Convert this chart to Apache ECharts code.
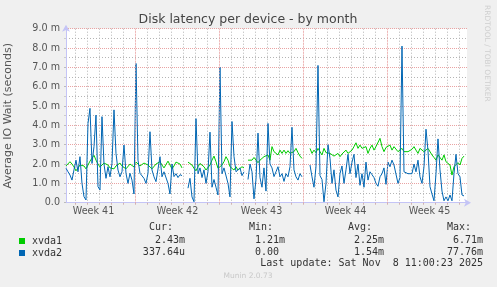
<!DOCTYPE html>
<html>
<head>
<meta charset="utf-8">
<script src="https://cdn.jsdelivr.net/npm/echarts@6/dist/echarts.min.js"></script>
<style>
html,body{margin:0;padding:0;background:#f0f0f0;}
#chart{width:497px;height:287px;}
</style>
</head>
<body>
<div id="chart"></div>
<script>
// ---- data (days counted from Sun 5 Oct 2025 00:00; one sample every 4 hours) ----
const startDay = 1.2083;
const stepDay = 1 / 6;
const axisMinDay = 1.2083;
const axisMaxDay = 34.625;

const seriesNames = ['xvda1', 'xvda2'];

// xvda1 average IO wait, milliseconds
const xvda1 = [
  1.9, 2.0, 2.12, 2.0, 1.85, 1.65, 1.75, 1.95, 2.05, 1.9,
  1.75, 1.95, 2.15, 2.3, 2.45, 2.2, 2.0, 1.85, 1.95, 2.05,
  2.12, 1.95, 1.8, 1.7, 1.75, 1.9, 2.0, 2.05, 1.9, 1.8,
  1.75, 1.85, 2.0, 1.9, 1.85, 2.1, 2.05, 1.9, 1.95, 2.05,
  2.12, 1.95, 1.85, 1.75, 1.85, 2.0, 2.1, 2.12, 1.95, 1.8,
  1.7, 2.15, 1.95, 1.75, 1.9, 2.1, 2.2, 2.0, 1.8, null,
  null, 2.1, 2.12, 1.95, 1.78, 1.65, 1.86, 2.03, 2.12, 1.86,
  1.69, 1.78, 1.95, 2.2, 2.41, 2.12, 1.78, 1.69, 1.95, 2.12,
  2.38, 2.2, 1.86, 1.78, 1.69, 1.86, 1.69, 1.78, 1.86, 1.8,
  null, 2.2, 2.29, 2.2, 2.34, 2.41, 2.07, 2.2, 2.29, 2.38,
  2.29, 2.47, 2.2, 2.9, 2.64, 2.55, 2.47, 2.72, 2.55, 2.72,
  2.55, 2.69, 2.55, 2.47, 2.64, 2.81, 2.59, 2.41, 2.29, null,
  null, null, 2.81, 2.55, 2.72, 2.59, 2.81, 2.72, 2.47, 2.81,
  2.59, 2.52, 2.55, 2.47, 2.41, 2.38, 2.55, 2.38, 2.52, 2.59,
  2.72, 2.55, 2.55, 2.72, 2.9, 3.1, 2.81, 2.98, 2.81, 2.86,
  2.9, 2.55, 2.81, 2.98, 2.72, 2.9, 2.81, 3.33, 2.9, 2.64,
  2.86, 2.93, 2.98, 2.72, 2.9, 2.98, 2.64, 2.55, 2.81, 2.64,
  2.72, 2.64, 2.55, 2.76, 2.9, 2.72, 2.55, 2.81, 2.9, 2.64,
  2.72, 2.81, 2.81, 2.47, 2.34, 2.2, 2.47, 2.55, 2.2, 2.47,
  2.12, 2.03, 1.95, 1.43, 1.86, 1.95, 2.07, 1.95, 2.29, 2.41
];

// xvda2 average IO wait, milliseconds
const xvda2 = [
  1.78, 1.6, 1.43, 1.17, 1.7, 2.2, 1.6, 2.38, 1.0, 0.31,
  0.14, 4.1, 4.88, 2.03, 2.9, 4.53, 0.83, 0.66, 4.45, 2.0,
  1.26, 1.86, 1.34, 2.03, 4.8, 2.55, 1.69, 1.34, 1.6, 2.98,
  1.52, 1.0, 1.52, 1.17, 0.45, 7.2, 2.2, 1.52, 1.6, 1.26,
  1.0, 1.52, 3.67, 1.69, 1.34, 1.09, 1.17, 2.38, 1.34, 1.6,
  1.52, 1.0, 0.45, 2.0, 1.35, 1.5, 1.3, 1.45, 1.4, null,
  null, 0.75, 1.26, 0.3, 0.05, 4.35, 1.5, 1.8, 1.3, 1.7,
  1.0, 1.6, 3.65, 0.8, 1.2, 0.8, 0.4, 7.0, 1.5, 1.8,
  1.9, 1.0, 0.3, 4.2, 2.4, 1.6, 1.5, 1.8, 1.4, 1.6,
  null, 1.2, 2.0, 1.6, 0.2, 1.2, 3.6, 1.3, 0.8, 1.8,
  0.6, 4.1, 2.0, 1.8, 1.35, 1.6, 1.86, 1.34, 1.5, 1.1,
  1.5, 1.34, 1.86, 3.9, 1.7, 1.34, 1.17, 1.5, 1.34, null,
  null, null, 1.95, 1.34, 0.8, 1.86, 7.1, 1.4, 1.2, 0.05,
  1.0, 3.0, 2.3, 1.0, 1.7, 0.65, 0.3, 1.5, 1.9, 1.0,
  1.7, 2.5, 1.5, 2.1, 2.5, 1.3, 2.0, 0.9, 1.5, 0.8,
  2.1, 1.17, 1.6, 1.45, 1.3, 1.0, 0.85, 1.34, 1.5, 1.8,
  0.95, 2.1, 1.86, 2.2, 1.95, 1.9, 1.0, 1.3, 8.1, 1.6,
  1.5, 1.5, 1.6, 1.5, 2.0, 1.6, 2.2, 1.34, 1.0, 1.86,
  3.8, 2.7, 0.83, 0.45, 0.1, 1.5, 3.3, 1.7, 0.6, 0.1,
  0.3, 0.1, 0.4, 0.1, 1.5, 2.5, 1.5, 1.34, 0.4, 0.35
];

const weekLabels = ['Week 41', 'Week 42', 'Week 43', 'Week 44', 'Week 45'];
const weekMidDays = [3.5, 10.5, 17.5, 24.5, 31.5];
const weekStartDays = [7, 14, 21, 28];

const yMax = 9;
const yStep = 1;

const titleText = 'Disk latency per device - by month';
const yAxisTitle = 'Average IO Wait (seconds)';
const statHeaders = ['Cur:', 'Min:', 'Avg:', 'Max:'];
const xvda1Stats = ['2.43m', '1.21m', '2.25m', '6.71m'];
const xvda2Stats = ['337.64u', '0.00', '1.54m', '77.76m'];
const lastUpdate = 'Last update: Sat Nov  8 11:00:23 2025';
const munin = 'Munin 2.0.73';
const rrdtool = 'RRDTOOL / TOBI OETIKER';

// ---- build ----
const toPairs = arr => arr.map((v, i) => [startDay + i * stepDay, v]);

const mono = '"DejaVu Sans Mono", monospace';
const sans = '"DejaVu Sans", sans-serif';
const GREEN = '#00cc00';
const BLUE = '#0066b3';
const MAJOR = '#e9a3a3';
const MINOR = '#b4b4b4';
const AXIS = '#c4c4f6';

// every day boundary inside the axis range; week starts drawn in the major colour
const dayTicks = [];
for (let d = Math.ceil(axisMinDay); d <= Math.floor(axisMaxDay); d++) dayTicks.push(d);
const dayLineColors = dayTicks.map(d => (weekStartDays.indexOf(d) >= 0 ? MAJOR : MINOR));

const headerLeft = [149, 249, 348, 447];
const valueRight = [185, 285, 384, 483];
const pad = s => (/[a-z]$/i.test(s) ? s : s + ' ');

const graphics = [
  { type: 'text', x: 248, y: 19.5, style: { text: titleText, font: '12.5px ' + sans, fill: '#444', align: 'center', verticalAlign: 'middle' } },
  { type: 'text', x: 487, y: 5, rotation: -Math.PI / 2, style: { text: rrdtool, font: '7.5px ' + sans, fill: '#cfcfcf', align: 'left', verticalAlign: 'middle' } },
  { type: 'text', x: 248, y: 276, style: { text: munin, font: '7.5px ' + sans, fill: '#c8c8c8', align: 'center', verticalAlign: 'middle' } },
  { type: 'text', x: 483, y: 263.5, style: { text: lastUpdate, font: '10px ' + mono, fill: '#333', align: 'right', verticalAlign: 'middle' } }
];
statHeaders.forEach((h, k) => {
  graphics.push({ type: 'text', x: headerLeft[k], y: 227.5, style: { text: h, font: '10px ' + mono, fill: '#333', align: 'left', verticalAlign: 'middle' } });
  graphics.push({ type: 'text', x: valueRight[k], y: 240, style: { text: pad(xvda1Stats[k]), font: '10px ' + mono, fill: '#333', align: 'right', verticalAlign: 'middle' } });
  graphics.push({ type: 'text', x: valueRight[k], y: 252, style: { text: pad(xvda2Stats[k]), font: '10px ' + mono, fill: '#333', align: 'right', verticalAlign: 'middle' } });
});

const vLine = (d, color) => ({ xAxis: d, lineStyle: { color: color, type: [1, 2], width: 1 } });

const chart = echarts.init(document.getElementById('chart'), null, { renderer: 'canvas' });
chart.setOption({
  animation: false,
  backgroundColor: '#f0f0f0',
  grid: { left: 66, right: 30, top: 28.7, bottom: 84.3, show: true, backgroundColor: '#ffffff', borderWidth: 0, containLabel: false, outerBoundsMode: 'none' },
  legend: {
    orient: 'vertical', left: 14, top: 230, itemGap: 0,
    icon: 'rect', itemWidth: 6, itemHeight: 6,
    data: seriesNames,
    selectedMode: false,
    textStyle: { fontFamily: mono, fontSize: 10, color: '#333', lineHeight: 12, padding: [0, 0, 0, 2] }
  },
  xAxis: {
    type: 'value', min: axisMinDay, max: axisMaxDay,
    axisLine: { show: true, lineStyle: { color: AXIS, width: 1 }, symbol: ['none', 'arrow'], symbolSize: [6, 7], symbolOffset: [0, 4] },
    axisTick: { show: true, customValues: dayTicks, length: 2, inside: false, lineStyle: { color: '#d0b0b0' } },
    axisLabel: {
      customValues: weekMidDays,
      formatter: v => weekLabels[weekMidDays.indexOf(v)] || '',
      fontFamily: sans, fontSize: 9.6, color: '#555', margin: 4
    },
    splitLine: { show: true, showMinLine: true, showMaxLine: true, lineStyle: { color: dayLineColors, type: [1, 2], width: 1 } }
  },
  yAxis: {
    type: 'value', min: 0, max: yMax, interval: yStep,
    name: yAxisTitle, nameLocation: 'middle', nameGap: 52, nameRotate: 90,
    nameTextStyle: { fontFamily: sans, fontSize: 11, color: '#555' },
    axisLine: { show: true, lineStyle: { color: AXIS, width: 1 }, symbol: ['none', 'arrow'], symbolSize: [6, 7], symbolOffset: [0, 4] },
    axisTick: { show: true, length: 2, lineStyle: { color: '#bbb' } },
    minorTick: { show: true, splitNumber: 2, length: 2, lineStyle: { color: '#ccc' } },
    axisLabel: {
      formatter: v => (v === 0 ? '0.0' : v.toFixed(1) + ' m'),
      fontFamily: sans, fontSize: 9.6, color: '#555', margin: 6
    },
    splitLine: { show: true, lineStyle: { color: MAJOR, type: [1, 1], width: 1 } },
    minorSplitLine: { show: true, lineStyle: { color: MINOR, type: [1, 2], width: 1 } }
  },
  graphic: graphics,
  series: [
    {
      name: 'grid', type: 'line', data: [], silent: true, z: 1,
      markLine: {
        silent: true, symbol: ['none', 'none'], label: { show: false }, animation: false,
        data: weekStartDays.map(d => vLine(d, MAJOR))
      }
    },
    {
      name: seriesNames[0], type: 'line', data: toPairs(xvda1), z: 3,
      showSymbol: false, connectNulls: false, color: GREEN,
      lineStyle: { color: GREEN, width: 1 }, sampling: 'none'
    },
    {
      name: seriesNames[1], type: 'line', data: toPairs(xvda2), z: 4,
      showSymbol: false, connectNulls: false, color: BLUE,
      lineStyle: { color: BLUE, width: 1 }, sampling: 'none'
    }
  ]
});
</script>
</body>
</html>
